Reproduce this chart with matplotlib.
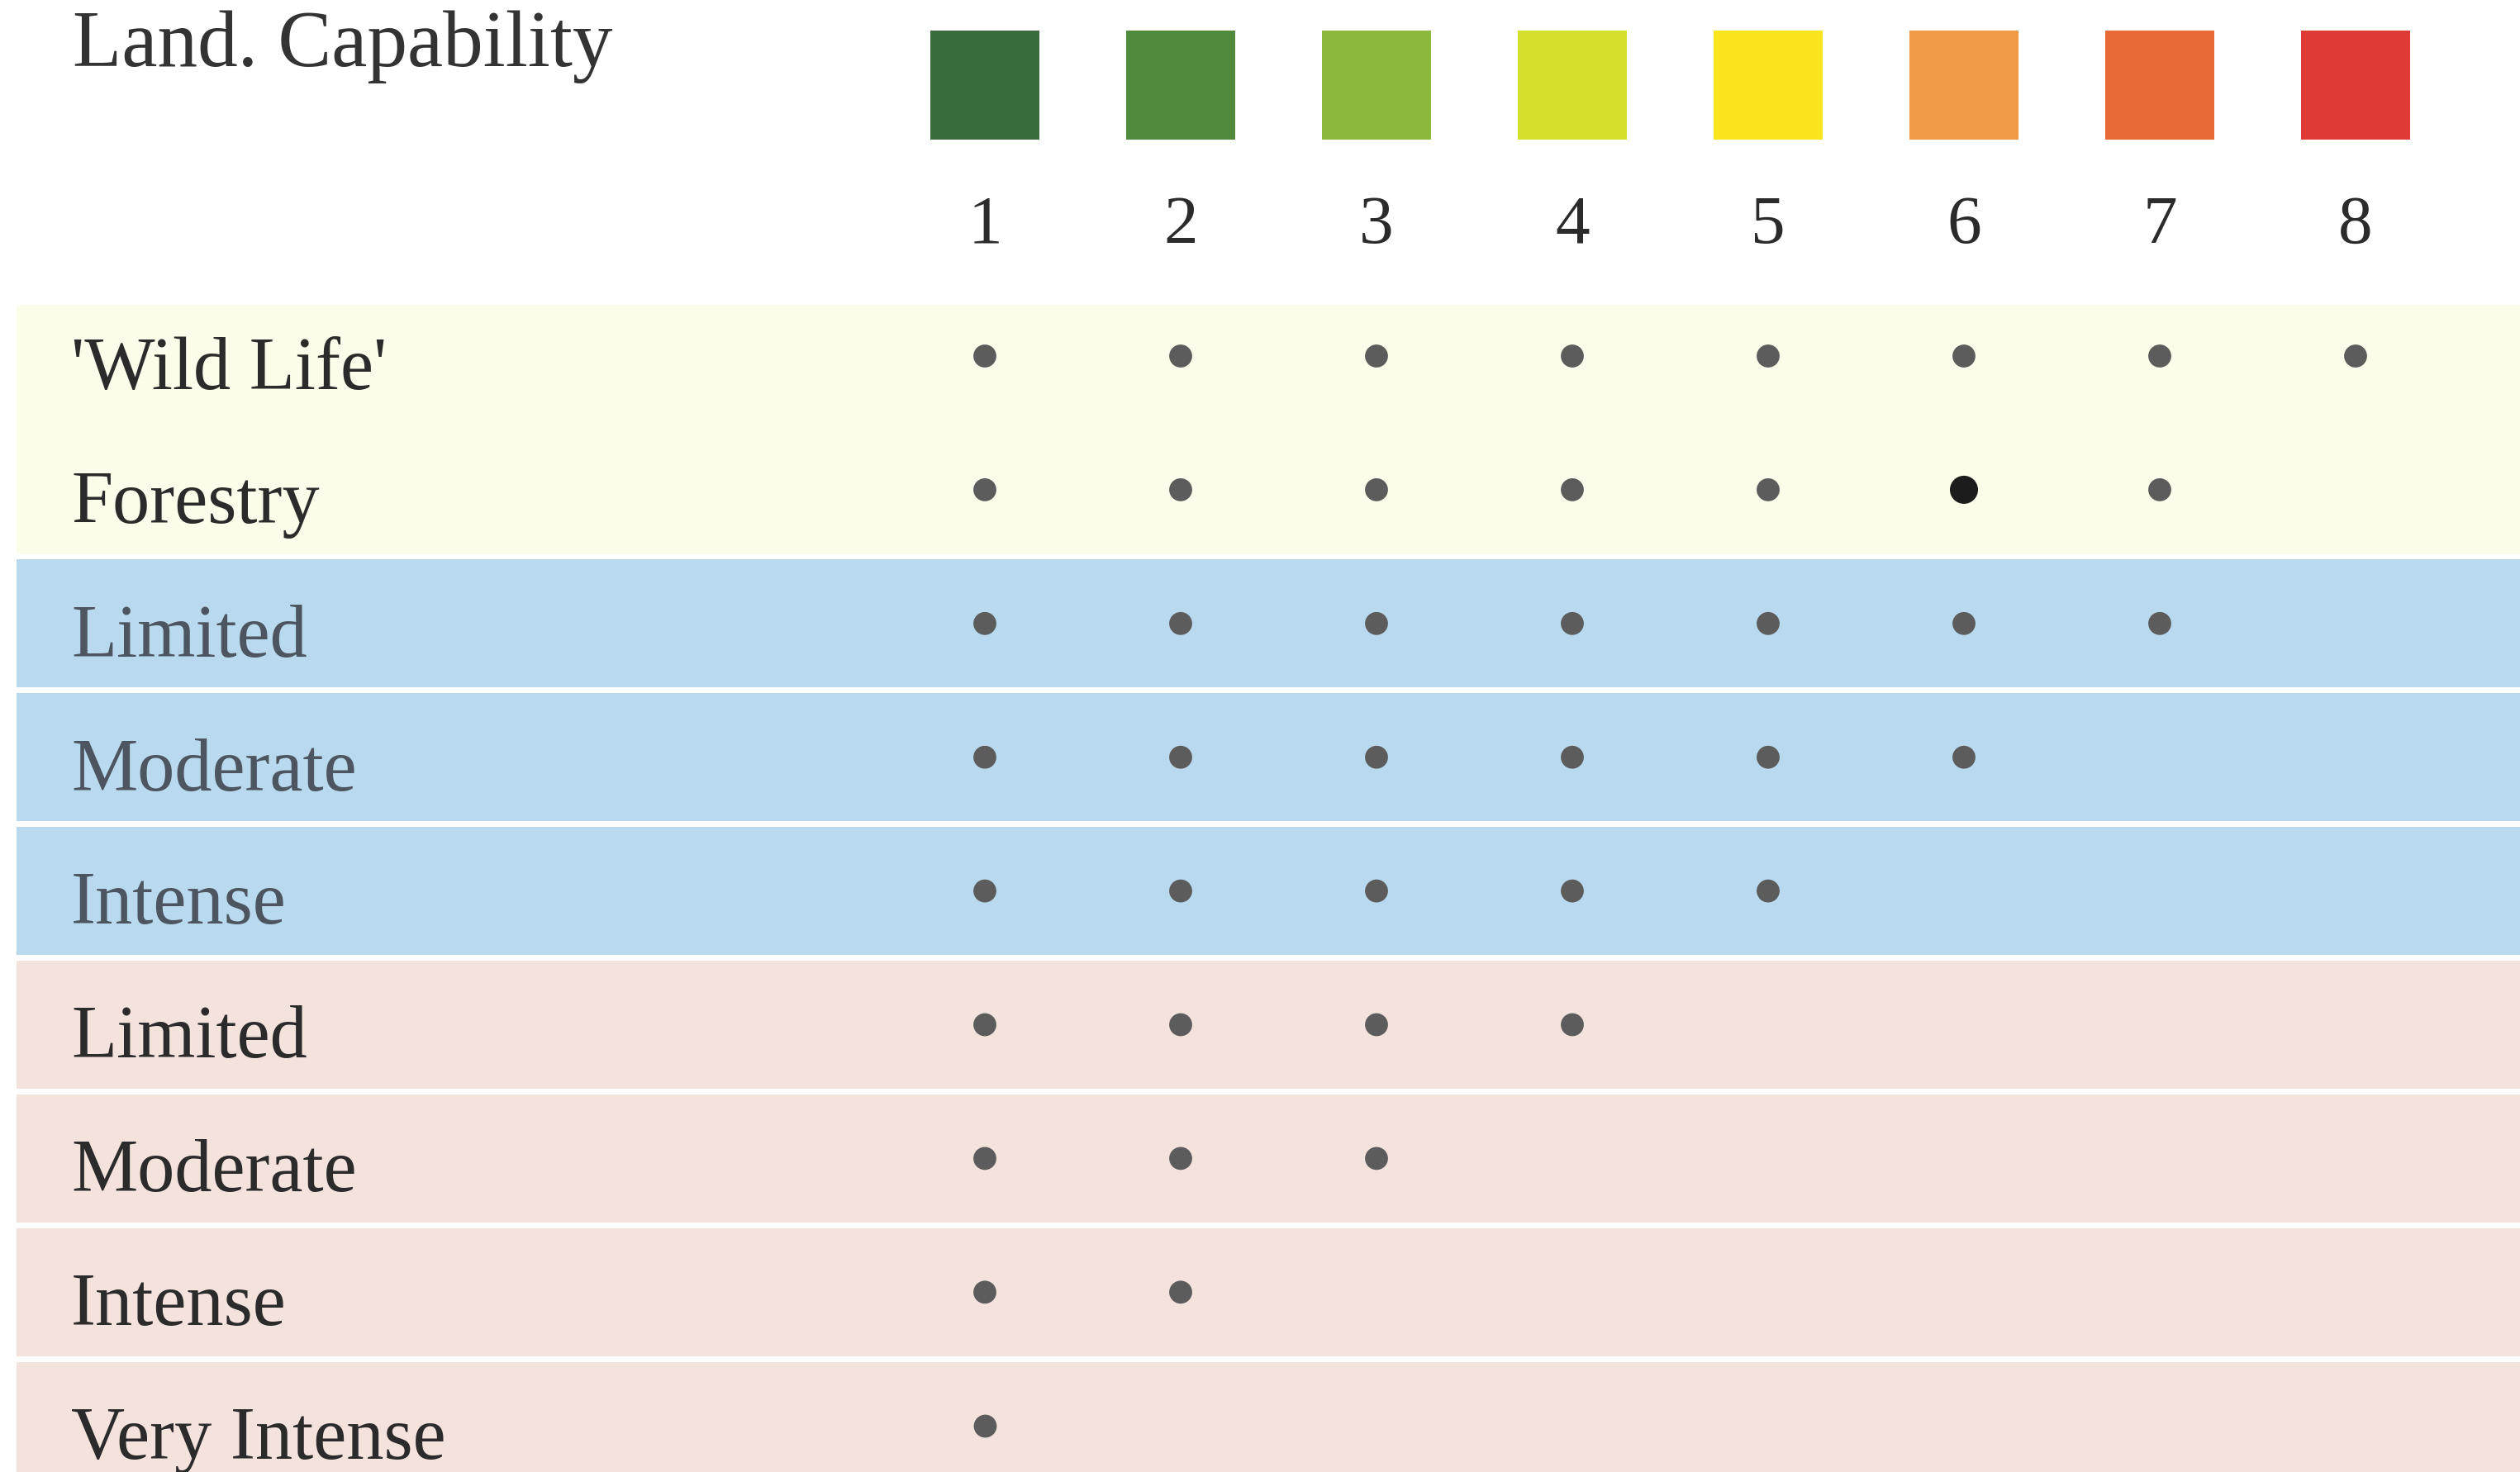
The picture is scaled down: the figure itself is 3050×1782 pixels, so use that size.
import matplotlib
matplotlib.use("Agg")
import matplotlib.pyplot as plt

# land capability classes and their swatch colours
classes = [1, 2, 3, 4, 5, 6, 7, 8]
class_colors = ['#386c3d', '#508a3c', '#8cb83e', '#d5e02c',
                '#fae41c', '#f19b46', '#e86935', '#de3a36']

# land uses, top to bottom, and the highest class each one fits
uses = ["'Wild Life'", 'Forestry',
        'Limited', 'Moderate', 'Intense',
        'Limited', 'Moderate', 'Intense', 'Very Intense']
max_class = [8, 7, 7, 6, 5, 4, 3, 2, 1]
groups = ['wild', 'wild', 'grazing', 'grazing', 'grazing',
          'cultivation', 'cultivation', 'cultivation', 'cultivation']

group_colors = {'wild': '#fbfce9', 'grazing': '#b9d9ee', 'cultivation': '#f4e2dc'}
label_colors = {'wild': '#2b2b2b', 'grazing': '#4d5660', 'cultivation': '#2b2b2b'}

W, H = 3050, 1783
X0, DX = 1192, 237.0      # pixel x of class 1, pitch
Y0, DY = 432, 161.9       # pixel y of first row, pitch


def px_x(p):
    return 1 + (p - X0) / DX


def px_y(p):
    return (p - Y0) / DY


plt.rcParams['font.family'] = ['Liberation Serif', 'DejaVu Serif']

fig = plt.figure(figsize=(W / 100, H / 100), dpi=100)
ax = fig.add_axes([0, 0, 1, 1])
ax.set_xlim(px_x(0), px_x(W))
ax.set_ylim(px_y(H), px_y(0))
ax.axis('off')

# row bands
left = px_x(20)
width = px_x(W + 10) - left
wild_rows = [i for i, g in enumerate(groups) if g == 'wild']
top = px_y(370)
bot = wild_rows[-1] + 0.48
ax.barh((top + bot) / 2, width, left=left, height=bot - top,
        color=group_colors['wild'], linewidth=0, zorder=1)
for i, g in enumerate(groups):
    if g != 'wild':
        ax.barh(i, width, left=left, height=0.955,
                color=group_colors[g], linewidth=0, zorder=1)
    ax.text(px_x(86), i + 0.24, uses[i], fontsize=65,
            color=label_colors[g], ha='left', va='baseline', zorder=3)

# swatches and class numbers
sw_top, sw_bot = px_y(38), px_y(170)
ax.bar(classes, sw_bot - sw_top, bottom=sw_top, width=132 / DX,
       color=class_colors, linewidth=0, zorder=2)
for c in classes:
    ax.text(c, px_y(294), str(c), fontsize=60, color='#2b2b2b',
            ha='center', va='baseline')

ax.text(px_x(88), px_y(80), 'Land. Capability', fontsize=70,
        color='#333333', ha='left', va='baseline')

# dots
for i, m in enumerate(max_class):
    xs = [c for c in classes if c <= m]
    sizes = [600 if (i == 1 and c == 6) else 400 for c in xs]
    cols = ['#1c1c1c' if (i == 1 and c == 6) else '#5c5c5c' for c in xs]
    ax.scatter(xs, [i] * len(xs), s=sizes, c=cols, linewidths=0, zorder=4)

fig.savefig('out.png', dpi=100, facecolor='white')
